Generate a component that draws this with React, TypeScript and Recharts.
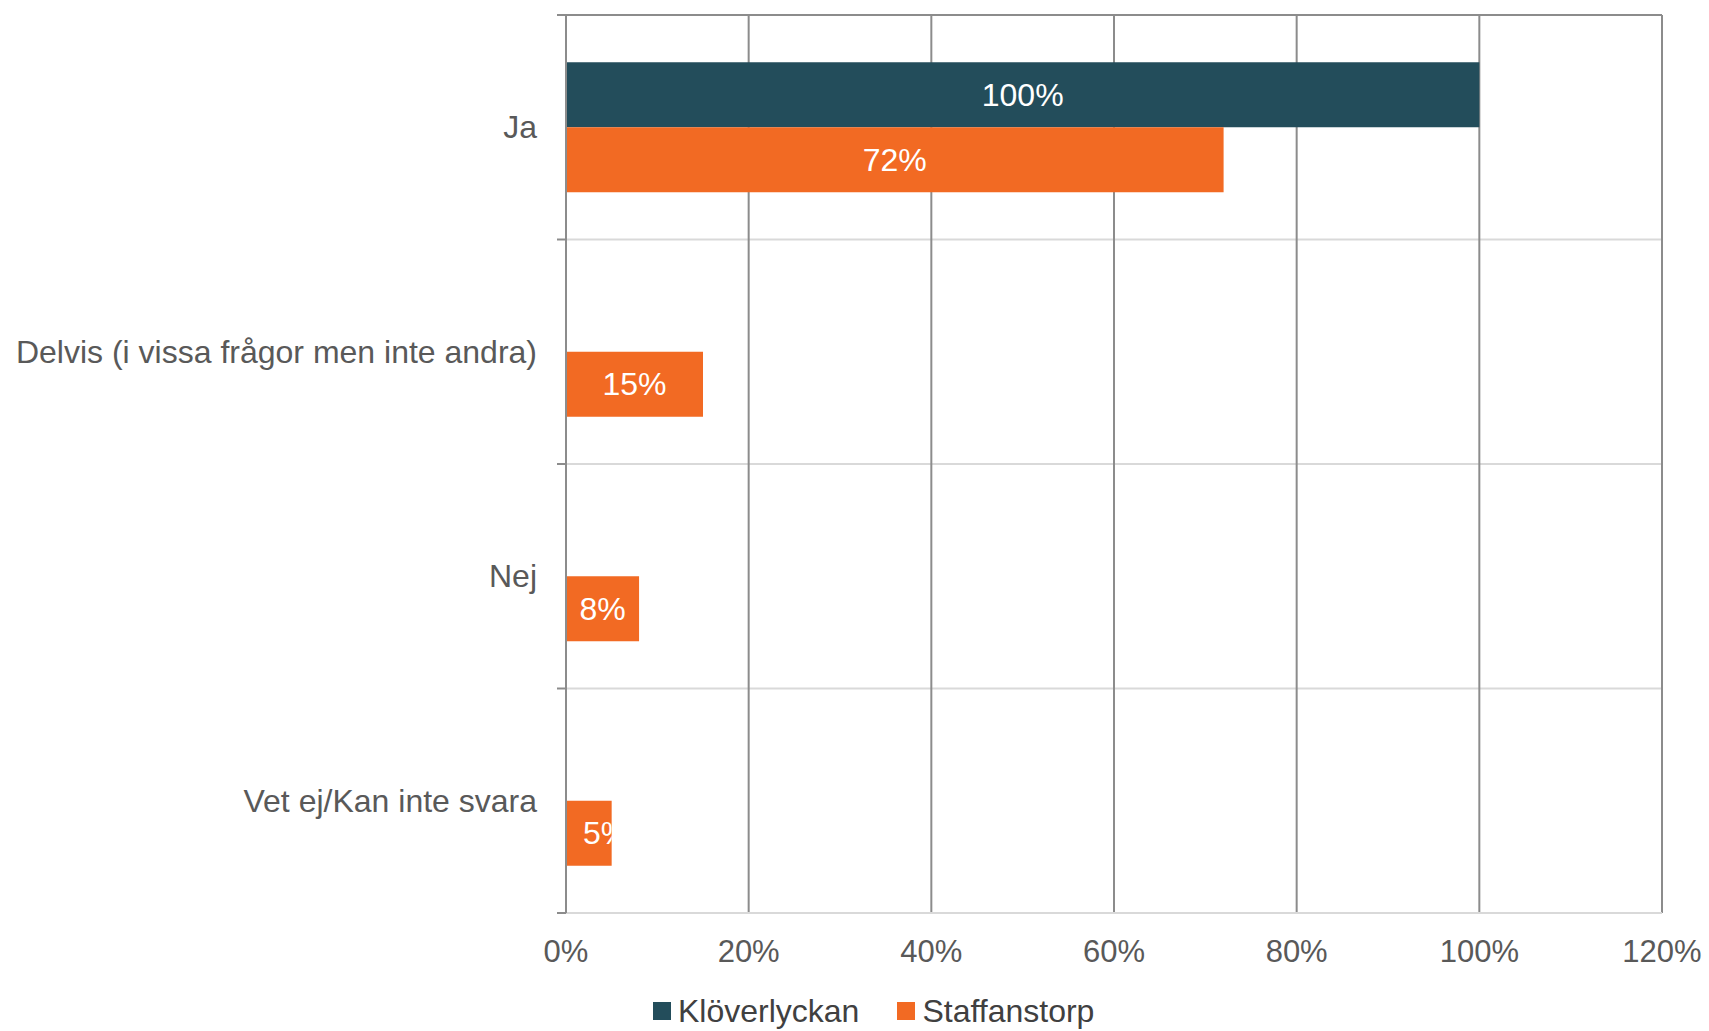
import React from 'react';
import { BarChart, Bar, XAxis, YAxis, CartesianGrid, LabelList } from 'recharts';

const categories = ['Ja', 'Delvis (i vissa frågor men inte andra)', 'Nej', 'Vet ej/Kan inte svara'];
const kloverlyckan = [100, null, null, null];
const staffanstorp = [72, 15, 8, 5];
const xTicks = [0, 20, 40, 60, 80, 100, 120];

const series = [
  { key: 'kloverlyckan', name: 'Klöverlyckan', color: '#234D5B' },
  { key: 'staffanstorp', name: 'Staffanstorp', color: '#F26A23' },
];

const data = categories.map((c, i) => ({
  category: c,
  kloverlyckan: kloverlyckan[i],
  staffanstorp: staffanstorp[i],
}));

const FONT = '"Liberation Sans", Arial, sans-serif';
const DARK_LINE = '#8C8C8C';
const LIGHT_LINE = '#D9D9D9';

// label inside the bar, clipped to the bar like Excel does
const BarLabel = (props: any) => {
  const { x, y, width, height, value, index, prefix } = props;
  if (value == null) return null;
  const id = `clip-${prefix}-${index}`;
  const narrow = width < 60;
  return (
    <g>
      <defs>
        <clipPath id={id}>
          <rect x={x} y={y} width={width} height={height} />
        </clipPath>
      </defs>
      <text
        x={narrow ? x + 17 : x + width / 2}
        y={y + height / 2}
        textAnchor={narrow ? 'start' : 'middle'}
        dominantBaseline="central"
        fill="#ffffff"
        fontSize={32}
        fontFamily={FONT}
        clipPath={`url(#${id})`}
      >
        {`${value}%`}
      </text>
    </g>
  );
};

// category label, plus the tick marks that sit on the category boundaries
const CategoryTick = (props: any) => {
  const { x, y, payload, index } = props;
  const half = payload && payload.offset ? payload.offset : 0;
  const axisX = x + 29;
  return (
    <g>
      <line x1={axisX - 9} x2={axisX} y1={y - half} y2={y - half} stroke={DARK_LINE} strokeWidth={2} />
      {index === categories.length - 1 && (
        <line x1={axisX - 9} x2={axisX} y1={y + half} y2={y + half} stroke={DARK_LINE} strokeWidth={2} />
      )}
      <text x={x} y={y} textAnchor="end" dominantBaseline="central" fill="#595959" fontSize={32} fontFamily={FONT}>
        {payload.value}
      </text>
    </g>
  );
};

const Empty = () => <g />;

export default function App() {
  return (
    <div style={{ position: 'absolute', left: 0, top: 0, width: 1709, height: 1031, background: '#fff', fontFamily: FONT }}>
      <BarChart
        width={1709}
        height={1031}
        data={data}
        layout="vertical"
        margin={{ top: 14, right: 47, bottom: 48, left: 0 }}
        barCategoryGap="21%"
        barGap={0}
      >
        <CartesianGrid
          vertical={false}
          horizontal={true}
          stroke={LIGHT_LINE}
          strokeWidth={2}
          horizontalCoordinatesGenerator={({ offset }: any) =>
            [0, 1, 2, 3, 4].map((k) => offset.top + (offset.height * k) / categories.length)
          }
        />
        <CartesianGrid vertical={true} horizontal={false} stroke={DARK_LINE} strokeWidth={2} />
        <XAxis
          type="number"
          domain={[0, 120]}
          ticks={xTicks}
          tickFormatter={(v) => `${v}%`}
          height={70}
          axisLine={{ stroke: LIGHT_LINE, strokeWidth: 2 }}
          tickLine={false}
          tickSize={0}
          tickMargin={27}
          tick={{ fill: '#595959', fontSize: 31, fontFamily: FONT }}
        />
        <XAxis
          xAxisId="top"
          orientation="top"
          type="number"
          domain={[0, 120]}
          ticks={xTicks}
          height={1}
          axisLine={{ stroke: DARK_LINE, strokeWidth: 2 }}
          tickLine={{ stroke: DARK_LINE, strokeWidth: 2 }}
          tickSize={9}
          tick={<Empty />}
        />
        <YAxis
          type="category"
          dataKey="category"
          width={566}
          axisLine={{ stroke: DARK_LINE, strokeWidth: 2 }}
          tickLine={false}
          tickSize={0}
          tickMargin={29}
          tick={<CategoryTick />}
        />
        {series.map((s) => (
          <Bar key={s.key} dataKey={s.key} name={s.name} fill={s.color} isAnimationActive={false}>
            <LabelList dataKey={s.key} content={(p: any) => <BarLabel {...p} prefix={s.key} />} />
          </Bar>
        ))}
      </BarChart>
      <div
        style={{
          position: 'absolute',
          left: 653,
          top: 991,
          height: 40,
          display: 'flex',
          alignItems: 'center',
          fontSize: 32,
          color: '#404040',
          whiteSpace: 'nowrap',
        }}
      >
        {series.map((s, i) => (
          <div key={s.key} style={{ display: 'flex', alignItems: 'center', marginRight: i === 0 ? 38 : 0 }}>
            <span style={{ display: 'inline-block', width: 18, height: 18, background: s.color, marginRight: 7 }} />
            <span>{s.name}</span>
          </div>
        ))}
      </div>
    </div>
  );
}
